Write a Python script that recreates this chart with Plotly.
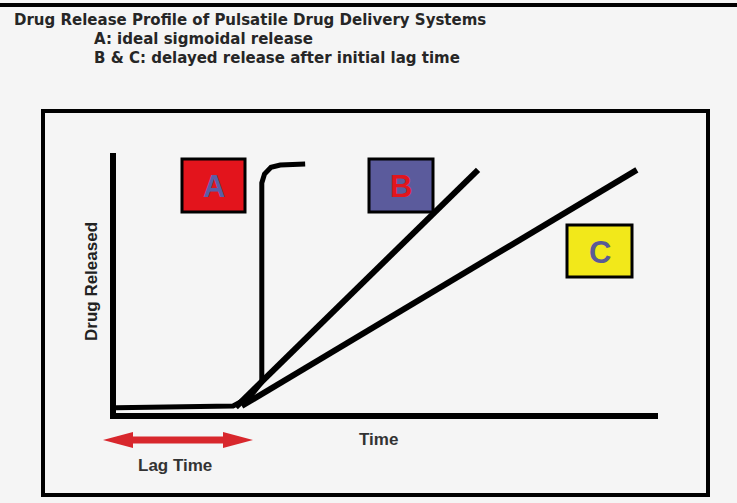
import plotly.graph_objects as go

# ---------------- data (chart units: time 0-10, drug released 0-100) ----------------
a_time = [0.0, 2.16, 2.47, 2.69, 2.69, 2.74, 2.86, 3.03, 3.49]
a_released = [2.0, 2.7, 6.2, 11.9, 88.5, 91.9, 94.5, 95.4, 95.8]
b_time = [2.21, 6.68]
b_released = [2.3, 93.5]
c_time = [2.32, 9.61]
c_released = [2.7, 93.5]

series_labels = ["A", "B", "C"]
title_lines = [
    "Drug Release Profile of Pulsatile Drug Delivery Systems",
    "A: ideal sigmoidal release",
    "B & C: delayed release after initial lag time",
]
x_label = "Time"
y_label = "Drug Released"
lag_label = "Lag Time"

# ---------------- layout helpers (pixel -> paper) ----------------
W, H = 737, 503
L, R, T, B = 116, 658, 153, 413


def px(x):
    return (x - L) / (R - L)


def py(y):
    return (B - y) / (B - T)


fig = go.Figure()
for t, r, w in [(a_time, a_released, 5), (b_time, b_released, 6), (c_time, c_released, 6)]:
    fig.add_trace(go.Scatter(x=t, y=r, mode="lines",
                             line=dict(color="black", width=w, shape="linear"),
                             showlegend=False, hoverinfo="skip"))

shapes = []
# top black bar
shapes.append(dict(type="rect", xref="paper", yref="paper", x0=px(0), x1=px(W),
                   y0=py(3), y1=py(7), fillcolor="black", line=dict(width=0), layer="above"))
# outer frame
shapes.append(dict(type="rect", xref="paper", yref="paper", x0=px(43), x1=px(708),
                   y0=py(111), y1=py(495), line=dict(color="black", width=4),
                   fillcolor="rgba(0,0,0,0)", layer="below"))

boxes = [
    # (x0, y0, x1, y1, fill, letter color)
    (182, 159, 245, 212, "#e3141c", "#5b5ea6"),
    (369, 159, 433, 212, "#5b5b9c", "#e2151d"),
    (567, 225, 632, 277, "#f2e81a", "#5a5a96"),
]
annotations = []
for (x0, y0, x1, y1, fill, tcol), lab in zip(boxes, series_labels):
    shapes.append(dict(type="rect", xref="paper", yref="paper", x0=px(x0), x1=px(x1),
                       y0=py(y0), y1=py(y1), fillcolor=fill,
                       line=dict(color="black", width=3)))
    annotations.append(dict(xref="paper", yref="paper", x=px((x0 + x1) / 2),
                            y=py((y0 + y1) / 2 + 1), text=f"<b>{lab}</b>", showarrow=False,
                            font=dict(family="Liberation Sans", size=31, color=tcol),
                            xanchor="center", yanchor="middle"))

# lag time double arrow
ax0, ax1, ay = 103, 253, 440
hl, hh, sh = 30, 8, 3.5
pts = [(ax0, ay), (ax0 + hl, ay - hh), (ax0 + hl, ay - sh), (ax1 - hl, ay - sh),
       (ax1 - hl, ay - hh), (ax1, ay), (ax1 - hl, ay + hh), (ax1 - hl, ay + sh),
       (ax0 + hl, ay + sh), (ax0 + hl, ay + hh)]
path = "M " + " L ".join(f"{px(x):.5f},{py(y):.5f}" for x, y in pts) + " Z"
shapes.append(dict(type="path", xref="paper", yref="paper", path=path,
                   fillcolor="#d8272d", line=dict(width=0)))

# titles
title_pos = [(12, 20), (92, 39), (92, 58)]
for txt, (x, y) in zip(title_lines, title_pos):
    annotations.append(dict(xref="paper", yref="paper", x=px(x), y=py(y), text=f"<b>{txt}</b>",
                            showarrow=False, xanchor="left", yanchor="middle",
                            font=dict(family="DejaVu Sans", size=15, color="#262626")))

annotations.append(dict(xref="paper", yref="paper", x=px(378), y=py(439), text=f"<b>{x_label}</b>",
                        showarrow=False, xanchor="center", yanchor="middle",
                        font=dict(family="Liberation Sans", size=17, color="#333333")))
annotations.append(dict(xref="paper", yref="paper", x=px(175), y=py(465), text=f"<b>{lag_label}</b>",
                        showarrow=False, xanchor="center", yanchor="middle",
                        font=dict(family="Liberation Sans", size=17, color="#333333")))
annotations.append(dict(xref="paper", yref="paper", x=px(91), y=py(282), text=f"<b>{y_label}</b>",
                        showarrow=False, xanchor="center", yanchor="middle", textangle=-90,
                        font=dict(family="Liberation Sans", size=17, color="#222222")))

fig.update_layout(
    width=W, height=H,
    margin=dict(l=L, r=W - R, t=T, b=H - B, pad=0),
    paper_bgcolor="#f5f5f5", plot_bgcolor="#f5f5f5",
    shapes=shapes, annotations=annotations,
    xaxis=dict(range=[0, 10], showgrid=False, zeroline=False, showticklabels=False,
               ticks="", showline=True, linewidth=6, linecolor="black", fixedrange=True),
    yaxis=dict(range=[0, 100], showgrid=False, zeroline=False, showticklabels=False,
               ticks="", showline=True, linewidth=6, linecolor="black", fixedrange=True),
)
fig.write_html("out.html", config=dict(displayModeBar=False),
               post_script="document.body.style.margin='0';document.body.style.overflow='hidden';")
